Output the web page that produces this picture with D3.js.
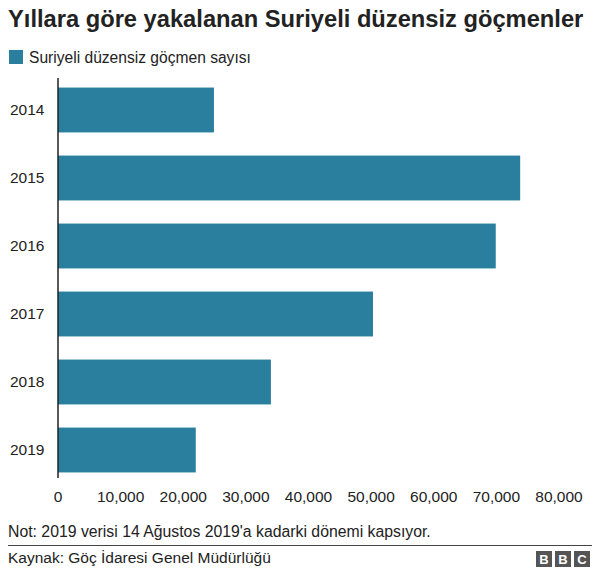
<!DOCTYPE html>
<html><head><meta charset="utf-8">
<script src="https://cdn.jsdelivr.net/npm/d3@7"></script>
<style>body{margin:0;background:#fff;font-family:"Liberation Sans",Arial,sans-serif}</style>
</head><body><svg id="c" width="600" height="574"></svg>
<script>
const years = ["2014","2015","2016","2017","2018","2019"];
const values = [24900, 73800, 69900, 50300, 34000, 22000];
const ticks = [0,10000,20000,30000,40000,50000,60000,70000,80000];
const svg = d3.select("#c");
const x = d3.scaleLinear().domain([0,80000]).range([58,559]);
const y = d3.scaleBand().domain(years).range([76,484]).paddingInner(0.34).paddingOuter(0.17);
svg.append("text").attr("x",8).attr("y",27).attr("font-size",23.7).attr("font-weight","bold").attr("fill","#222").text("Yıllara göre yakalanan Suriyeli düzensiz göçmenler");
svg.append("rect").attr("x",9).attr("y",50).attr("width",14).attr("height",14).attr("fill","#2a7f9e");
svg.append("text").attr("x",29).attr("y",63).attr("font-size",15.6).attr("fill","#222").text("Suriyeli düzensiz göçmen sayısı");
svg.selectAll(".bar").data(years).join("rect").attr("x",x(0)).attr("y",d=>y(d))
 .attr("width",(d,i)=>x(values[i])-x(0)).attr("height",y.bandwidth()).attr("fill","#2a7f9e");
svg.selectAll(".yl").data(years).join("text").attr("x",10).attr("y",d=>y(d)+y.bandwidth()/2+5)
 .attr("font-size",15.5).attr("fill","#222").text(d=>d);
svg.append("line").attr("x1",58).attr("x2",58).attr("y1",78).attr("y2",478).attr("stroke","#222").attr("stroke-width",1.5);
svg.selectAll(".xl").data(ticks).join("text").attr("x",d=>x(d)).attr("y",502).attr("text-anchor","middle")
 .attr("font-size",15.5).attr("fill","#222").text(d=>d3.format(",")(d));
svg.append("text").attr("x",8).attr("y",537).attr("font-size",15.8).attr("fill","#222").text("Not: 2019 verisi 14 Ağustos 2019'a kadarki dönemi kapsıyor.");
svg.append("line").attr("x1",8).attr("x2",592).attr("y1",545.5).attr("y2",545.5).attr("stroke","#444").attr("stroke-width",1);
svg.append("text").attr("x",8).attr("y",563).attr("font-size",15.5).attr("fill","#222").text("Kaynak: Göç İdaresi Genel Müdürlüğü");
["B","B","C"].forEach((l,i)=>{
 svg.append("rect").attr("x",536+i*19).attr("y",551).attr("width",16).attr("height",16).attr("fill","#555");
 svg.append("text").attr("x",544+i*19).attr("y",564).attr("text-anchor","middle").attr("font-size",13).attr("font-weight","bold").attr("fill","#fff").text(l);
});
</script></body></html>
